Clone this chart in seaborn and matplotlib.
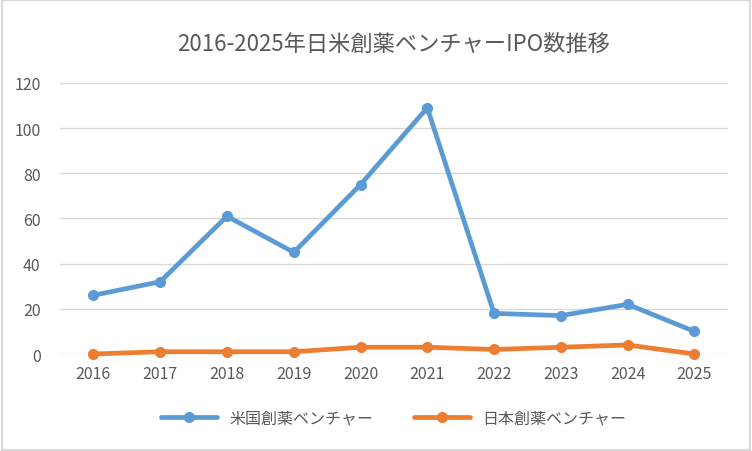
import numpy as np
import pandas as pd
import seaborn as sns
import matplotlib.pyplot as plt
from matplotlib.patches import Rectangle

years = [2016, 2017, 2018, 2019, 2020, 2021, 2022, 2023, 2024, 2025]
us_ipo = [26, 32, 61, 45, 75, 109, 18, 17, 22, 10]
jp_ipo = [0, 1, 1, 1, 3, 3, 2, 3, 4, 0]
series_names = ["米国創薬ベンチャー", "日本創薬ベンチャー"]
colors = ["#5B9BD5", "#ED7D31"]

sns.set_style("white")
plt.rcParams['font.family'] = ['Noto Sans CJK JP', 'DejaVu Sans']

df = pd.DataFrame({
    "year": [str(y) for y in years] * 2,
    "count": us_ipo + jp_ipo,
    "series": [series_names[0]] * len(years) + [series_names[1]] * len(years),
})

fig = plt.figure(figsize=(7.52, 4.52), dpi=100)
ax = fig.add_axes([0.0798, 0.2146, 0.888, 0.5996])

sns.lineplot(data=df, x="year", y="count", hue="series", palette=colors,
             marker="o", markersize=8, markeredgewidth=0, linewidth=3.4,
             sort=False, ax=ax, legend=True)
for ln in ax.lines:
    ln.set_clip_on(False)

ax.set_xlim(-0.5, len(years) - 0.5)
ax.set_ylim(0, 120)
ax.set_yticks(range(0, 121, 20))
ax.yaxis.grid(True, color="#D9D9D9", linewidth=1)
ax.set_axisbelow(True)
for s in ax.spines.values():
    s.set_visible(False)
ax.tick_params(axis="both", length=0, labelsize=11.5, colors="#595959", pad=8)
ax.tick_params(axis="y", pad=14)
ax.set_xlabel("")
ax.set_ylabel("")

ax.set_title("2016-2025年日米創薬ベンチャーIPO数推移", fontsize=16, color="#595959", pad=24)

handles, labels = ax.get_legend_handles_labels()
ax.legend(handles, labels, loc="center", bbox_to_anchor=(0.5, -0.235), ncol=2,
          frameon=False, fontsize=11.5, labelcolor="#595959", handlelength=3.5,
          columnspacing=2.5)

fig.patches.append(Rectangle((0.002, 0.003), 0.996, 0.994, transform=fig.transFigure,
                             fill=False, edgecolor="#D9D9D9", linewidth=1.5))

plt.savefig("out.png", dpi=100)
